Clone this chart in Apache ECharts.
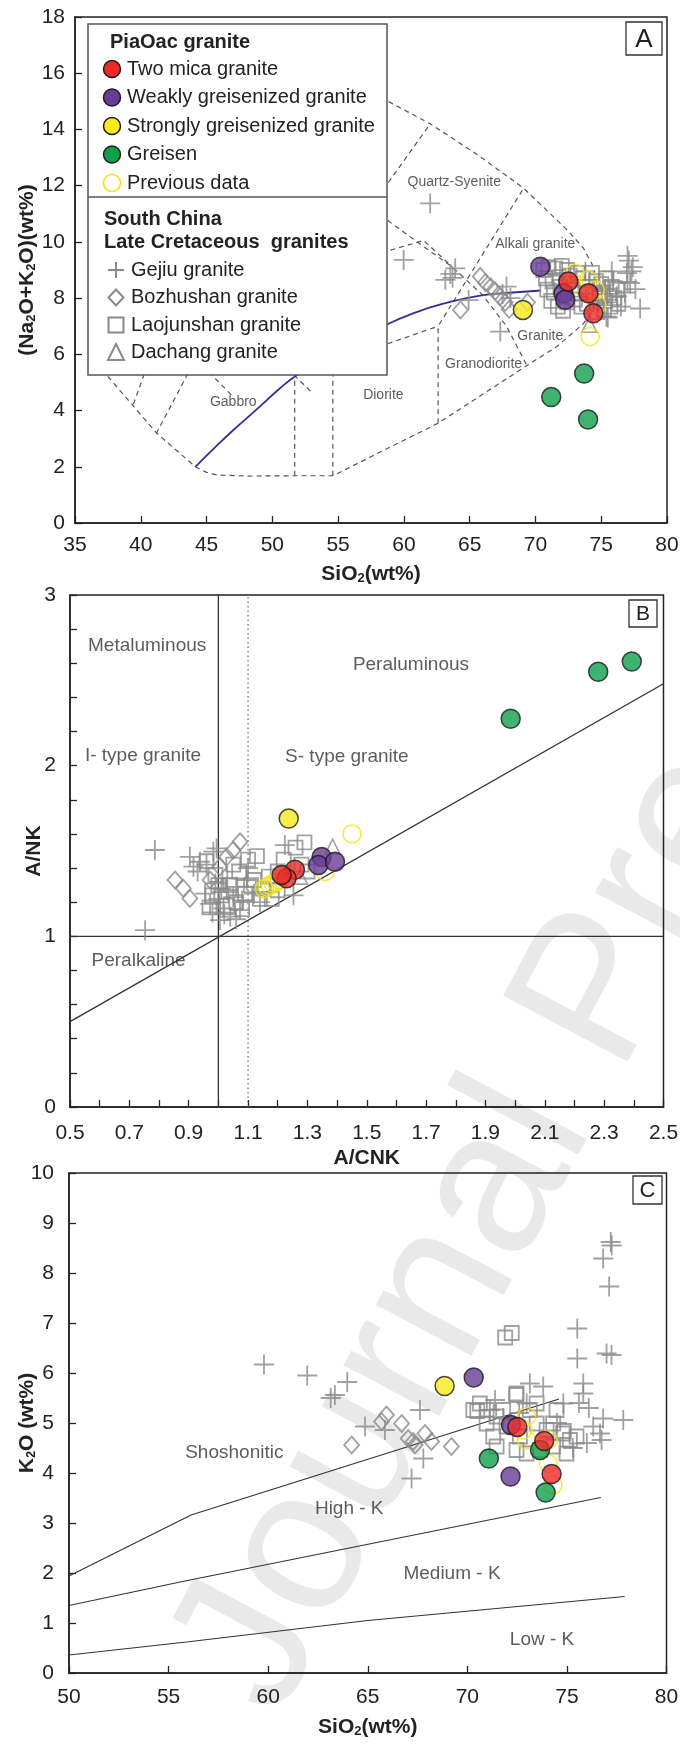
<!DOCTYPE html>
<html><head><meta charset="utf-8">
<script src="https://cdn.jsdelivr.net/npm/echarts/dist/echarts.min.js"></script>
<style>html,body{margin:0;padding:0;background:#fff}#c{width:680px;height:1744px}</style>
</head><body><div id="c"></div>
<script>
// ---------------- DATA ----------------
const seriesNames = {
  two: 'Two mica granite', weak: 'Weakly greisenized granite', strong: 'Strongly greisenized granite',
  greisen: 'Greisen', prev: 'Previous data', gejiu: 'Gejiu granite', boz: 'Bozhushan granite',
  lao: 'Laojunshan granite', dach: 'Dachang granite'
};
const legendHeaderTop = 'PiaOac granite';
const legendHeaderBottom = ['South China', 'Late Cretaceous  granites'];
const watermarkText = 'Journal Pre-proof';

// Panel A : TAS (SiO2 vs Na2O+K2O)
const aXRange = [35, 80, 5];
const aYRange = [0, 18, 2];
const tasTwoMica = [[72.5,8.59],[74.03,8.17],[74.4,7.46]];
const tasWeakly = [[70.37,9.12],[72.13,8.17],[72.26,7.94]];
const tasStrongly = [[69.05,7.58]];
const tasGreisen = [[73.7,5.32],[71.2,4.48],[74.0,3.68]];
const tasPrevious = [[73.0,8.89],[72.9,8.53],[74.03,8.65],[74.55,8.29],[74.67,7.76],[74.16,6.63]];
const tasGejiu = [[62.0,11.37],[59.98,9.36],[63.9,9.06],[63.53,8.86],[63.15,8.65],[63.7,8.72],[64.92,7.93],[67.33,6.81],[67.8,8.41],[67.5,8.15],[68.1,8.0],[73.8,8.95],[74.8,7.82],[75.3,8.32],[75.5,7.31],[75.8,8.95],[76.2,8.07],[77.0,9.5],[77.1,9.33],[77.3,8.95],[77.4,9.1],[77.0,8.58],[77.6,8.32],[77.96,7.63],[76.5,7.7],[75.9,8.6],[76.8,8.2],[76.95,8.89],[77.2,8.53],[75.4,7.34]];
const tasBozhushan = [[65.8,8.77],[66.2,8.55],[66.6,8.4],[66.95,8.25],[67.3,8.05],[67.7,7.85],[68.0,7.6],[64.3,7.58],[69.4,7.85]];
const tasLaojunshan = [[70.6,9.0],[71.0,9.1],[71.5,9.05],[72.0,9.15],[72.4,9.0],[70.8,8.7],[71.3,8.6],[71.8,8.75],[72.6,8.8],[73.2,8.9],[73.6,8.7],[70.9,8.3],[71.4,8.2],[71.9,8.4],[72.8,8.3],[73.3,8.15],[73.8,8.4],[74.3,8.9],[74.6,8.6],[75.0,8.5],[75.4,8.7],[75.8,8.4],[76.2,8.3],[71.2,7.9],[71.7,7.7],[72.4,7.85],[73.0,7.95],[73.5,7.7],[74.9,8.0],[75.3,7.9],[75.7,7.7],[76.0,8.0],[74.5,8.2],[75.1,8.15],[75.6,8.1],[76.3,7.8],[74.7,7.5],[75.2,7.6],[73.9,7.8],[72.1,7.55]];
const tasDachang = [[74.1,7.05]];
const tasAlkalineCurve = [[44.15,2.0],[45.8,2.76],[47.0,3.29],[49.0,4.12],[50.5,4.76],[51.8,5.24],[54,5.85],[56,6.4],[58.2,6.95],[60.7,7.46],[63.3,7.84],[65.8,8.09],[68.3,8.2],[70.4,8.27]];
const tasBoundaries = [
  [[36.6,5.7],[39.4,4.18],[41.2,3.2],[44.15,2.0],[45.0,1.8],[45.8,1.71],[48,1.67],[51.7,1.68],[54.6,1.68],[62.6,3.55],[69.35,5.6],[71.6,6.27],[73.66,7.1],[74.4,7.6],[74.75,8.3],[74.4,9.12],[73.66,9.77],[72.4,10.43],[69.1,11.91],[65.6,13.1],[62.0,14.2],[58.8,15.0],[55,15.8]],
  [[40.5,5.6],[39.4,4.18]],
  [[43.9,5.6],[41.2,3.2]],
  [[44.7,5.6],[47.0,4.5]],
  [[51.7,1.68],[51.7,5.24],[53.1,4.6]],
  [[54.6,1.68],[54.6,5.7],[62.6,7.0]],
  [[62.6,3.55],[62.6,7.0],[69.1,11.91]],
  [[56,10.3],[58.8,12.1],[62.0,14.2]],
  [[56,11.7],[58.2,10.96],[61,10.0],[63.7,9.1],[66,8.1],[67.8,7.0],[69.35,5.6]],
  [[57,9.45],[58.2,9.6],[61.5,10.05],[63.7,9.1]]
];
const tasFieldLabels = [['Quartz-Syenite',63.83,12.11],['Alkali granite',69.99,9.93],['Granite',70.37,6.65],['Granodiorite',66.06,5.64],['Diorite',58.44,4.56],['Gabbro',47.03,4.31]];

// Panel B : A/CNK vs A/NK
const bXRange = [0.5, 2.5, 0.2];
const bYRange = [0, 3, 1];
const bTwoMica = [[1.258,1.39],[1.23,1.34],[1.213,1.36]];
const bWeakly = [[1.348,1.465],[1.337,1.418],[1.393,1.437]];
const bStrongly = [[1.237,1.69]];
const bGreisen = [[1.985,2.275],[2.28,2.55],[2.393,2.61]];
const bPrevious = [[1.45,1.60],[1.155,1.28],[1.165,1.29],[1.175,1.30],[1.185,1.31],[1.195,1.32],[1.205,1.33],[1.36,1.38]];
const bGejiu = [[0.786,1.506],[0.753,1.036],[0.938,1.437],[0.983,1.496],[0.916,1.408],[0.955,1.25],[0.972,1.19],[1.017,1.164],[1.05,1.23],[1.073,1.154],[1.04,1.115],[1.096,1.33],[1.224,1.535],[1.253,1.24],[0.93,1.38],[0.99,1.31],[1.01,1.28],[1.03,1.34],[1.06,1.29],[1.08,1.21],[1.12,1.25],[1.14,1.2],[1.0,1.22],[0.96,1.42],[0.994,1.515],[1.1,1.4],[1.02,1.13],[1.06,1.1],[0.98,1.14],[0.904,1.466],[1.028,1.271],[1.005,1.095]];
const bBozhushan = [[0.854,1.33],[0.882,1.281],[0.904,1.222],[1.073,1.554],[1.05,1.505],[1.028,1.466],[1.005,1.407],[0.972,1.33]];
const bLaojunshan = [[0.96,1.44],[0.99,1.36],[1.01,1.24],[1.03,1.18],[0.97,1.17],[1.04,1.3],[1.07,1.38],[1.1,1.45],[1.13,1.47],[1.12,1.33],[1.15,1.28],[1.17,1.35],[1.14,1.22],[1.09,1.25],[1.06,1.2],[1.2,1.38],[1.22,1.45],[1.26,1.52],[1.29,1.55],[1.28,1.42],[1.3,1.38],[1.18,1.22],[1.2,1.27],[1.08,1.16],[1.11,1.3],[1.0,1.3],[0.98,1.24],[1.05,1.42]];
const bDachang = [[1.385,1.525],[1.275,1.35]];
const bFieldLabels = [['Metaluminous',0.76,2.70],['Peraluminous',1.649,2.59],['I- type granite',0.746,2.06],['S- type granite',1.433,2.05],['Peralkaline',0.731,0.854]];
const bLines = [[[1,0],[1,3]],[[0.5,1],[2.5,1]],[[0.5,0.5],[2.5,2.48]]];
const bDottedLine = [[1.1,0],[1.1,3]];

// Panel C : SiO2 vs K2O
const cXRange = [50, 80, 5];
const cYRange = [0, 10, 1];
const cTwoMica = [[72.51,4.92],[73.86,4.64],[74.23,3.98]];
const cWeakly = [[70.32,5.91],[72.19,4.96],[72.17,3.93]];
const cStrongly = [[68.86,5.74]];
const cGreisen = [[71.08,4.29],[73.65,4.46],[73.93,3.61]];
const cPrevious = [[72.98,5.13],[72.8,4.86],[72.98,4.66],[74.06,4.66],[74.06,4.19],[74.3,3.76]];
const cGejiu = [[59.79,6.17],[61.96,5.95],[63.14,5.5],[63.35,5.56],[63.97,5.82],[64.86,4.93],[65.86,4.86],[67.62,5.26],[67.79,4.29],[67.2,3.89],[77.2,8.62],[77.25,8.55],[76.82,8.29],[77.12,7.73],[75.52,6.89],[75.52,6.29],[76.99,6.39],[77.24,6.36],[75.82,5.79],[75.82,5.59],[76.82,5.09],[77.83,5.06],[76.32,4.93],[76.66,4.79],[76.74,4.66],[73.14,5.79],[73.81,5.73],[72.98,5.39],[74.82,5.39],[71.39,5.46],[71.13,5.26],[75.6,5.4],[76.0,4.6],[75.3,4.5],[74.5,5.0],[72.6,5.2],[71.8,5.1],[76.1,5.3]];
const cBozhushan = [[64.19,4.56],[65.94,5.16],[65.69,5.03],[66.7,4.99],[67.03,4.69],[67.28,4.63],[67.37,4.56],[67.87,4.79],[68.2,4.63],[69.2,4.53]];
const cLaojunshan = [[71.9,6.71],[72.23,6.8],[70.3,5.26],[70.63,5.39],[70.97,5.26],[71.47,5.13],[72.47,5.59],[71.3,4.73],[71.47,4.53],[72.47,4.46],[72.98,4.39],[73.48,4.99],[73.98,4.86],[74.31,4.99],[74.82,4.79],[75.15,4.66],[75.48,4.73],[74.31,4.53],[73.64,4.46],[74.98,4.39],[71.97,4.93],[73.14,5.26],[72.64,4.73],[74.48,5.26],[73.48,5.39],[71.8,5.26],[70.97,4.99],[72.45,5.56],[70.5,5.24],[74.84,4.84]];
const cDachang = [];
const cFieldLabels = [['Shoshonitic',58.3,4.4],['High - K',64.07,3.29],['Medium - K',69.23,1.98],['Low - K',73.75,0.67]];
const cLines = [
  [[50,1.94],[56.13,3.16],[74.6,5.48]],
  [[50,1.35],[55.7,1.83],[76.7,3.51]],
  [[50,0.36],[55.9,0.62],[65,1.05],[77.9,1.53]]
];

// ---------------- STYLE / LAYOUT ----------------
const FONT = '"Liberation Sans", Arial, Helvetica, sans-serif';
const DARK = '#222';
const GREY = '#8a8a8a';
const FILL = { two: '#ec2b2b', weak: '#6a3c98', strong: '#f8ea1c', greisen: '#10a04c' };
const YEL_OPEN = '#f2e31e';
const STYLES = {
  two:     { symbol: 'circle', size: 19, itemStyle: { color: FILL.two, borderColor: '#1a1a1a', borderWidth: 1.5 }, z: 9 },
  weak:    { symbol: 'circle', size: 19, itemStyle: { color: FILL.weak, borderColor: '#1a1a1a', borderWidth: 1.5 }, z: 8 },
  strong:  { symbol: 'circle', size: 19, itemStyle: { color: FILL.strong, borderColor: '#1a1a1a', borderWidth: 1.5 }, z: 7 },
  greisen: { symbol: 'circle', size: 19, itemStyle: { color: FILL.greisen, borderColor: '#1a1a1a', borderWidth: 1.5 }, z: 6 },
  prev:    { symbol: 'circle', size: 18, itemStyle: { color: 'rgba(0,0,0,0)', borderColor: YEL_OPEN, borderWidth: 1.6 }, z: 5 },
  gejiu:   { symbol: 'path://M10,0L10,20M0,10L20,10', size: 20, itemStyle: { color: 'rgba(0,0,0,0)', borderColor: GREY, borderWidth: 1.8 }, z: 4 },
  boz:     { symbol: 'diamond', size: [15, 17], itemStyle: { color: 'rgba(0,0,0,0)', borderColor: GREY, borderWidth: 1.8 }, z: 4 },
  lao:     { symbol: 'rect', size: 14, itemStyle: { color: 'rgba(0,0,0,0)', borderColor: GREY, borderWidth: 1.8 }, z: 4 },
  dach:    { symbol: 'triangle', size: 15, itemStyle: { color: 'rgba(0,0,0,0)', borderColor: GREY, borderWidth: 1.6 }, z: 4 }
};

function scatter(gi, key, data) {
  const s = STYLES[key];
  return { type: 'scatter', name: seriesNames[key], xAxisIndex: gi, yAxisIndex: gi, data: data,
    symbol: s.symbol, symbolSize: s.size, itemStyle: s.itemStyle, z: s.z, silent: true };
}
function line(gi, data, style, smooth) {
  return { type: 'line', xAxisIndex: gi, yAxisIndex: gi, data: data, showSymbol: false, symbol: 'none',
    smooth: !!smooth, lineStyle: style, z: 2, silent: true };
}
function labels(gi, arr, size) {
  return { type: 'scatter', xAxisIndex: gi, yAxisIndex: gi, symbolSize: 1, itemStyle: { color: 'rgba(0,0,0,0)' },
    data: arr.map(a => ({ name: a[0], value: [a[1], a[2]] })), silent: true, z: 3,
    label: { show: true, position: 'inside', formatter: '{b}', fontSize: size, color: '#333', fontFamily: FONT } };
}
function panelSeries(gi, d) {
  return [
    scatter(gi, 'gejiu', d.gejiu), scatter(gi, 'boz', d.boz), scatter(gi, 'lao', d.lao), scatter(gi, 'dach', d.dach),
    scatter(gi, 'prev', d.prev), scatter(gi, 'greisen', d.greisen), scatter(gi, 'strong', d.strong),
    scatter(gi, 'weak', d.weak), scatter(gi, 'two', d.two)
  ];
}

const subRich = { s: { fontSize: 13, fontWeight: 'bold', fontFamily: FONT, color: DARK, verticalAlign: 'bottom', lineHeight: 10 } };
const nameStyle = { fontFamily: FONT, fontSize: 21, fontWeight: 'bold', color: DARK, rich: subRich };
const labelStyle = { fontFamily: FONT, fontSize: 21, color: DARK, showMinLabel: true, showMaxLabel: true, hideOverlap: false };
const axisLine = { show: true, lineStyle: { color: DARK, width: 1.5 } };

function xAxis(gi, r, name, gap, margin, fmt, minor) {
  return { type: 'value', gridIndex: gi, min: r[0], max: r[1], interval: r[2], name: name, nameLocation: 'middle', nameGap: gap,
    nameMoveOverlap: false, nameTextStyle: nameStyle, axisLine: axisLine, splitLine: { show: false },
    axisTick: { show: true, inside: true, length: 7, lineStyle: { color: DARK, width: 1.3 } },
    minorTick: minor ? { show: true, splitNumber: minor, length: 7, lineStyle: { color: DARK, width: 1.3 } } : { show: false },
    axisLabel: Object.assign({ margin: margin, formatter: fmt }, labelStyle) };
}
function yAxis(gi, r, name, gap, margin, minor) {
  return { type: 'value', gridIndex: gi, min: r[0], max: r[1], interval: r[2], name: name, nameLocation: 'middle', nameGap: gap,
    nameMoveOverlap: false, nameTextStyle: nameStyle, axisLine: axisLine, splitLine: { show: false },
    axisTick: { show: true, inside: true, length: 7, lineStyle: { color: DARK, width: 1.3 } },
    minorTick: minor ? { show: true, splitNumber: minor, length: 7, lineStyle: { color: DARK, width: 1.3 } } : { show: false },
    axisLabel: Object.assign({ margin: margin }, labelStyle) };
}

const gridBase = { show: true, borderColor: DARK, borderWidth: 1.5, backgroundColor: 'rgba(0,0,0,0)', containLabel: false, outerBoundsMode: 'none' };

const series = [];
tasBoundaries.forEach(b => series.push(line(0, b, { color: '#555', width: 1.2, type: [5, 4] })));
series.push(line(0, tasAlkalineCurve, { color: '#2e3192', width: 1.8 }, 0.4));
series.push(labels(0, tasFieldLabels, 14));
series.push(...panelSeries(0, { two: tasTwoMica, weak: tasWeakly, strong: tasStrongly, greisen: tasGreisen, prev: tasPrevious, gejiu: tasGejiu, boz: tasBozhushan, lao: tasLaojunshan, dach: tasDachang }));

bLines.forEach(b => series.push(line(1, b, { color: '#333', width: 1.3 })));
series.push(line(1, bDottedLine, { color: '#666', width: 1.2, type: [1.5, 3] }));
series.push(labels(1, bFieldLabels, 19));
series.push(...panelSeries(1, { two: bTwoMica, weak: bWeakly, strong: bStrongly, greisen: bGreisen, prev: bPrevious, gejiu: bGejiu, boz: bBozhushan, lao: bLaojunshan, dach: bDachang }));

cLines.forEach(b => series.push(line(2, b, { color: '#333', width: 1.2 })));
series.push(labels(2, cFieldLabels, 19));
series.push(...panelSeries(2, { two: cTwoMica, weak: cWeakly, strong: cStrongly, greisen: cGreisen, prev: cPrevious, gejiu: cGejiu, boz: cBozhushan, lao: cLaojunshan, dach: cDachang }));

// ---------------- LEGEND (graphic) ----------------
const TOPZ = 100;
function marker(key, cx, cy) {
  const s = STYLES[key];
  if (s.symbol === 'circle') return [{ type: 'circle', z: TOPZ + 1, shape: { cx: cx, cy: cy, r: 8.5 }, style: { fill: key === 'prev' ? 'none' : s.itemStyle.color, stroke: s.itemStyle.borderColor, lineWidth: key === 'prev' ? 1.6 : 1.5 } }];
  const st = { fill: 'none', stroke: GREY, lineWidth: 2 };
  if (key === 'gejiu') return [
    { type: 'line', z: TOPZ + 1, shape: { x1: cx - 8, y1: cy, x2: cx + 8, y2: cy }, style: st },
    { type: 'line', z: TOPZ + 1, shape: { x1: cx, y1: cy - 8, x2: cx, y2: cy + 8 }, style: st } ];
  if (key === 'boz') return [{ type: 'polygon', z: TOPZ + 1, shape: { points: [[cx, cy - 8], [cx + 7.5, cy], [cx, cy + 8], [cx - 7.5, cy]] }, style: st }];
  if (key === 'lao') return [{ type: 'rect', z: TOPZ + 1, shape: { x: cx - 7.5, y: cy - 7.5, width: 15, height: 15 }, style: st }];
  return [{ type: 'polygon', z: TOPZ + 1, shape: { points: [[cx, cy - 8.5], [cx + 8, cy + 7.5], [cx - 8, cy + 7.5]] }, style: st }];
}
function txt(s, x, y, size, bold) {
  return { type: 'text', z: TOPZ + 1, x: x, y: y, style: { text: s, fontFamily: FONT, fontSize: size, fontWeight: bold ? 'bold' : 'normal', fill: DARK, verticalAlign: 'middle', align: 'left' } };
}
const graphics = [
  { type: 'text', x: 318, y: 1742, rotation: Math.PI * 62 / 180, z: -10, silent: true,
    style: { text: watermarkText, fontFamily: FONT, fontSize: 205, fill: 'rgba(0,0,0,0.085)', verticalAlign: 'bottom' } },
  { type: 'rect', z: TOPZ, shape: { x: 88, y: 24, width: 299, height: 351 }, style: { fill: '#fff', stroke: '#555', lineWidth: 1.5 } },
  { type: 'line', z: TOPZ + 1, shape: { x1: 88, y1: 197, x2: 387, y2: 197 }, style: { stroke: '#555', lineWidth: 1.5 } },
  txt(legendHeaderTop, 110, 42, 20, true),
  txt(legendHeaderBottom[0], 104, 219, 20, true),
  txt(legendHeaderBottom[1], 104, 242, 20, true)
];
['two', 'weak', 'strong', 'greisen', 'prev'].forEach((k, i) => {
  const y = 69 + i * 28.5;
  graphics.push(...marker(k, 112, y), txt(seriesNames[k], 127, y, 20, false));
});
['gejiu', 'boz', 'lao', 'dach'].forEach((k, i) => {
  const y = 270 + i * 27.5;
  graphics.push(...marker(k, 116, y), txt(seriesNames[k], 131, y, 20, false));
});
function panelTag(letter, x, y, w, h, size) {
  graphics.push(
    { type: 'rect', z: TOPZ, shape: { x: x, y: y, width: w, height: h }, style: { fill: '#fff', stroke: '#333', lineWidth: 1.3 } },
    { type: 'text', z: TOPZ + 1, x: x + w / 2, y: y + h / 2 + 1, style: { text: letter, fontFamily: FONT, fontSize: size, fill: DARK, align: 'center', verticalAlign: 'middle' } });
}
panelTag('A', 626, 22, 36, 33, 26);
panelTag('B', 629, 600, 28, 27, 21);
panelTag('C', 633, 1176, 29, 28, 22);

const option = {
  animation: false,
  backgroundColor: '#fff',
  grid: [
    Object.assign({ left: 75, right: 13, top: 17, height: 506 }, gridBase),
    Object.assign({ left: 70, right: 16.5, top: 595, height: 512 }, gridBase),
    Object.assign({ left: 69, right: 13.5, top: 1173, height: 500 }, gridBase)
  ],
  xAxis: [
    xAxis(0, aXRange, 'SiO{s|2}(wt%)', 41, 12, null, 0),
    xAxis(1, bXRange, 'A/CNK', 41, 16, v => v.toFixed(1), 2),
    xAxis(2, cXRange, 'SiO{s|2}(wt%)', 44, 14, null, 0)
  ],
  yAxis: [
    yAxis(0, aYRange, '(Na{s|2}O+K{s|2}O)(wt%)', 37, 10, 0),
    yAxis(1, bYRange, 'A/NK', 25, 14, 5),
    yAxis(2, cYRange, 'K{s|2}O (wt%)', 31, 15, 0)
  ],
  graphic: { elements: graphics },
  series: series
};
const chart = echarts.init(document.getElementById('c'));
chart.setOption(option);
</script></body></html>
